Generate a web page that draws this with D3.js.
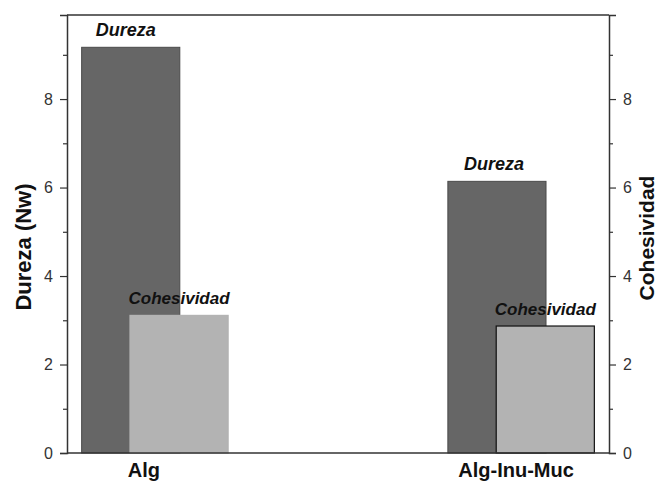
<!DOCTYPE html>
<html>
<head>
<meta charset="utf-8">
<script src="https://cdn.jsdelivr.net/npm/d3@7"></script>
<style>
  body { margin: 0; background: #fff; }
  svg text { font-family: "Liberation Sans", Arial, sans-serif; }
</style>
</head>
<body>
<div id="chart"></div>
<script>
const categories = ["Alg", "Alg-Inu-Muc"];
const dureza = [9.17, 6.14];
const cohesividad = [3.11, 2.87];
const majorTicks = [0, 2, 4, 6, 8];
const minorTicks = [1, 3, 5, 7, 9];

const width = 659;
const height = 481;
const margin = { top: 15, right: 50, bottom: 28, left: 67 };

const svg = d3.select("#chart")
              .append("svg")
              .attr("width", width)
              .attr("height", height);

const xScale = d3.scaleLinear()
                 .domain([-0.24, 1.24])
                 .range([margin.left, width - margin.right]);

const yLeft = d3.scaleLinear()
                .domain([0, 9.9])
                .range([height - margin.bottom, margin.top]);

const yRight = d3.scaleLinear()
                 .domain([0, 9.9])
                 .range([height - margin.bottom, margin.top]);

const barW = 0.268;
const shift = 0.066;

// dark bars (Dureza)
svg.selectAll("rect.dureza")
   .data(dureza)
   .enter()
   .append("rect")
   .attr("class", "dureza")
   .attr("x", (d, i) => xScale(i - shift - barW / 2))
   .attr("y", (d) => yLeft(d))
   .attr("width", xScale(barW) - xScale(0))
   .attr("height", (d) => yLeft(0) - yLeft(d))
   .attr("fill", "#666666")
   .attr("stroke", "#4a4a4a")
   .attr("stroke-width", 1);

// light bars (Cohesividad)
svg.selectAll("rect.cohe")
   .data(cohesividad)
   .enter()
   .append("rect")
   .attr("class", "cohe")
   .attr("x", (d, i) => xScale(i + shift - barW / 2))
   .attr("y", (d) => yRight(d))
   .attr("width", xScale(barW) - xScale(0))
   .attr("height", (d) => yRight(0) - yRight(d))
   .attr("fill", "#b3b3b3")
   .attr("stroke", (d, i) => i === 1 ? "#111" : "#b3b3b3")
   .attr("stroke-width", 1.2);

// bar annotations
svg.selectAll("text.lblD")
   .data(dureza)
   .enter()
   .append("text")
   .attr("x", (d, i) => xScale(i - shift) - (i === 0 ? 5 : 3))
   .attr("y", (d) => yLeft(d) - 11)
   .attr("text-anchor", "middle")
   .style("font-size", "18px")
   .style("font-weight", "bold")
   .style("font-style", "italic")
   .attr("fill", "#111")
   .text("Dureza");

svg.selectAll("text.lblC")
   .data(cohesividad)
   .enter()
   .append("text")
   .attr("x", (d, i) => xScale(i + shift))
   .attr("y", (d) => yRight(d) - 11)
   .attr("text-anchor", "middle")
   .style("font-size", "17px")
   .style("font-weight", "bold")
   .style("font-style", "italic")
   .attr("fill", "#111")
   .text("Cohesividad");

// frame
const axisColor = "#333";
svg.append("line")
   .attr("x1", margin.left).attr("x2", width - margin.right)
   .attr("y1", margin.top).attr("y2", margin.top)
   .attr("stroke", axisColor).attr("stroke-width", 1.5);
svg.append("line")
   .attr("x1", margin.left).attr("x2", width - margin.right)
   .attr("y1", height - margin.bottom).attr("y2", height - margin.bottom)
   .attr("stroke", axisColor).attr("stroke-width", 1.5);

// left axis
svg.append("g")
   .attr("transform", `translate(${margin.left},0)`)
   .call(d3.axisLeft(yLeft).tickValues(majorTicks).tickSize(7).tickPadding(7).tickFormat(d3.format("d")));
svg.append("g")
   .attr("transform", `translate(${margin.left},0)`)
   .call(d3.axisLeft(yLeft).tickValues(minorTicks).tickSize(4).tickFormat(""))
   .select(".domain").remove();

// right axis
svg.append("g")
   .attr("transform", `translate(${width - margin.right},0)`)
   .call(d3.axisRight(yRight).tickValues(majorTicks).tickSize(7).tickPadding(7).tickFormat(d3.format("d")));
svg.append("g")
   .attr("transform", `translate(${width - margin.right},0)`)
   .call(d3.axisRight(yRight).tickValues(minorTicks).tickSize(4).tickFormat(""))
   .select(".domain").remove();

svg.selectAll(".domain").attr("stroke", axisColor).attr("stroke-width", 1.5);
svg.selectAll(".tick line").attr("stroke", axisColor).attr("stroke-width", 1.2);
svg.selectAll(".tick text")
   .style("font-size", "16px")
   .attr("fill", "#333");

// category labels
svg.selectAll("text.cat")
   .data(categories)
   .enter()
   .append("text")
   .attr("class", "cat")
   .attr("x", (d, i) => xScale(i) - (i === 0 ? 11 : 5))
   .attr("y", 477)
   .attr("text-anchor", "middle")
   .style("font-size", "20px")
   .style("font-weight", "bold")
   .attr("fill", "#111")
   .text((d) => d);

// axis titles
svg.append("text")
   .attr("transform", "translate(31,247) rotate(-90)")
   .attr("text-anchor", "middle")
   .style("font-size", "22px")
   .style("font-weight", "bold")
   .attr("fill", "#111")
   .text("Dureza (Nw)");

svg.append("text")
   .attr("transform", "translate(654,238) rotate(-90)")
   .attr("text-anchor", "middle")
   .style("font-size", "21px")
   .style("font-weight", "bold")
   .attr("fill", "#111")
   .text("Cohesividad");
</script>
</body>
</html>
